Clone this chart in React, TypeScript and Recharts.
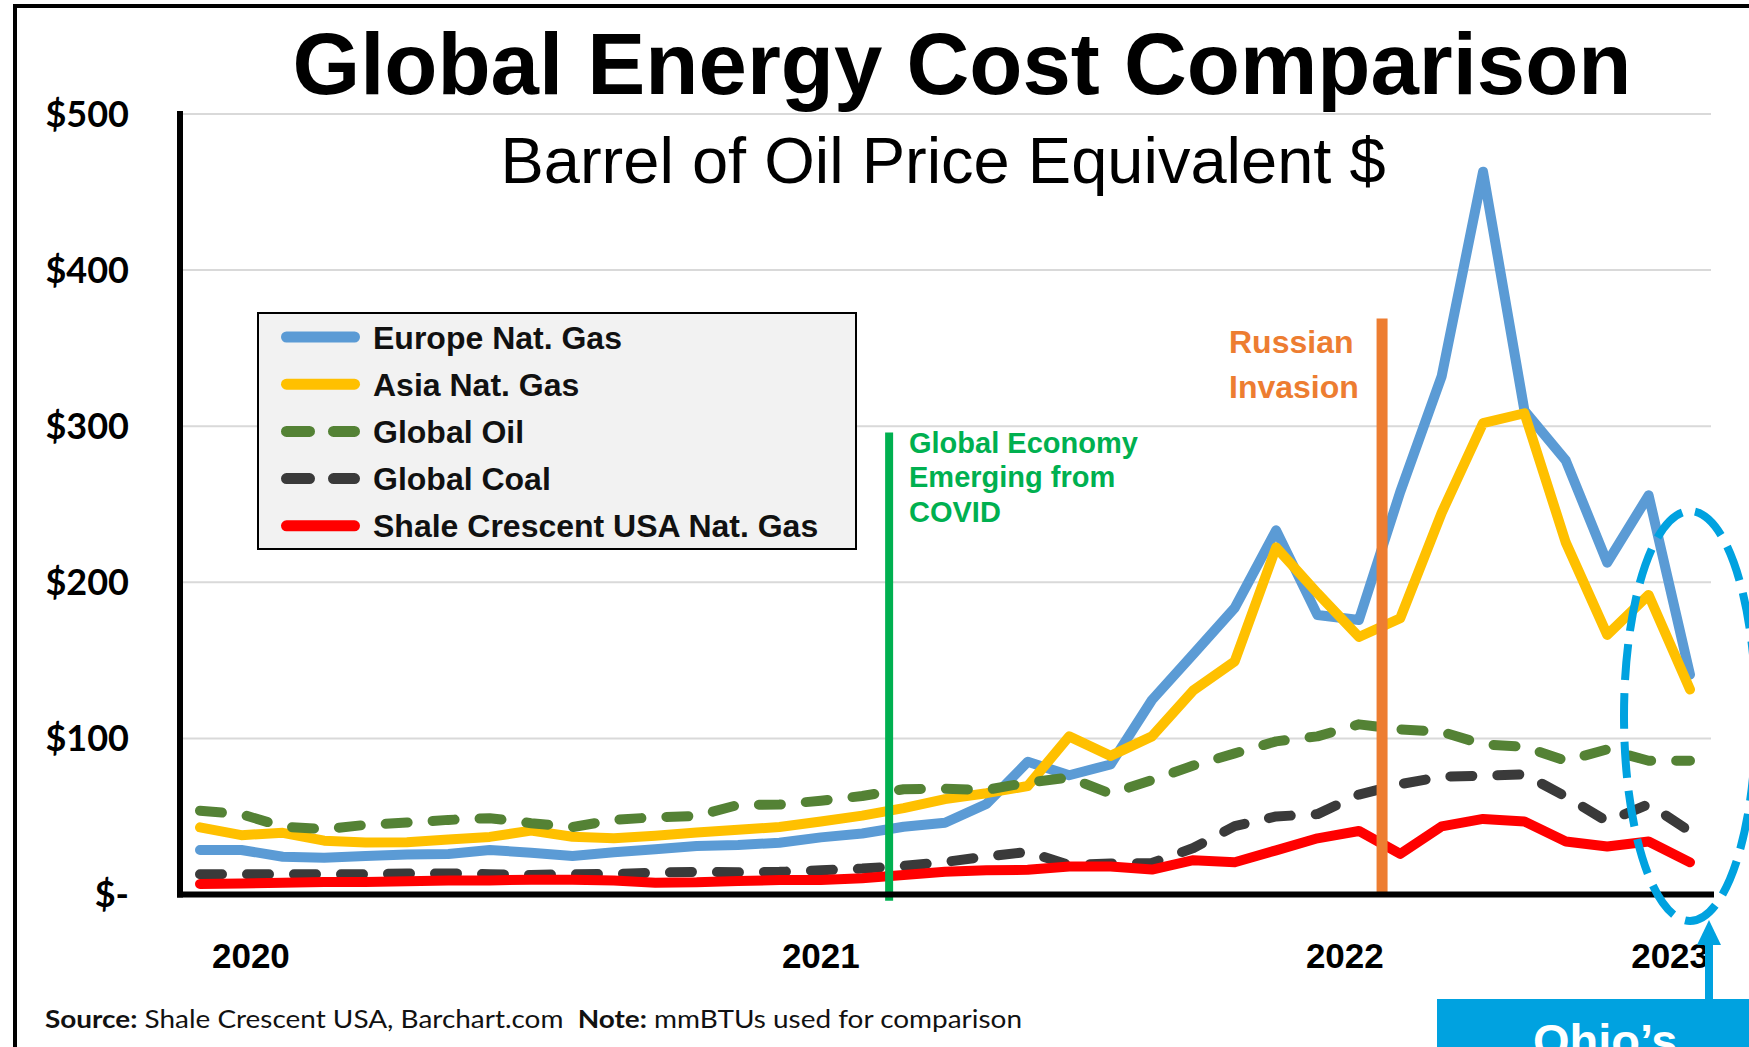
import React from 'react';
import { LineChart, Line, XAxis, YAxis, CartesianGrid, ReferenceLine, Legend } from 'recharts';

const W = 1749;
const H = 1047;

// 37 samples from early 2020 to early 2023, plotted by index
const EUROPE = [28.5, 28.5, 24.2, 23.6, 24.7, 25.7, 26, 28.5, 26.8, 24.7, 27, 29, 31.1, 31.7, 33.2, 36.6, 39.1, 43.4, 46, 58, 85, 76.4, 83.3, 124.6, 154, 183.6, 233.3, 179, 175.8, 258, 332, 463, 310, 278, 212.6, 255.7, 140.8];
const ASIA = [43, 38, 39.5, 34.5, 33.3, 33.5, 35.2, 36.9, 40.9, 37, 36, 37.6, 39.7, 41.5, 43.2, 46.8, 50.5, 55.3, 61.1, 64.9, 69.5, 101.3, 88.8, 101.3, 130.8, 149.4, 222.4, 193, 165, 177, 244.5, 302, 308.3, 225.4, 166.3, 191.9, 131.3];
const OIL = [53.7, 51.4, 43.5, 41.8, 44.6, 46.1, 47.8, 48.9, 45.7, 43.2, 47.8, 49.5, 50.3, 57.4, 57.6, 60.1, 63.1, 67.4, 67.7, 67, 71.7, 74.9, 64.6, 73.3, 82.6, 90.4, 98.1, 101.3, 109, 105.8, 104.2, 96.2, 94.6, 85.7, 93, 85.7, 85.7];
const COAL = [13, 13, 13, 13, 13, 13.5, 13.5, 13, 12.5, 13, 13.1, 14, 14.5, 14.2, 14.5, 15.5, 16.6, 18.3, 20.8, 24.3, 27.3, 18.9, 19.9, 20.2, 29.8, 43.8, 50, 51.5, 64, 70.7, 75.5, 76.1, 77, 62.7, 46.8, 57.9, 40.4];
const SHALE = [6.7, 7, 7.5, 8, 8, 8.5, 9, 9, 9.5, 9.5, 9, 7.6, 7.8, 8.6, 9.3, 9.3, 10.4, 12.5, 14.6, 15.5, 15.8, 18, 18, 16, 22, 20.7, 28.3, 36, 40.7, 26, 43.6, 48.4, 46.8, 34, 30.8, 34, 20.6];

const TICK_POS = [1.23, 15.0, 27.66, 35.52];
const TICK_LABELS = ['2020', '2021', '2022', '2023'];
const Y_TICKS = [0, 100, 200, 300, 400, 500];

// event markers (x in sample index, y in $)
const COVID_X = 16.65;
const COVID_TOP = 296;
const INVASION_X = 28.56;
const INVASION_TOP = 369;

const SERIES = [
  { key: 'europe', name: 'Europe Nat. Gas', color: '#5b9bd5', dashed: false },
  { key: 'asia', name: 'Asia Nat. Gas', color: '#ffc000', dashed: false },
  { key: 'oil', name: 'Global Oil', color: '#548235', dashed: true },
  { key: 'coal', name: 'Global Coal', color: '#3a3a3a', dashed: true },
  { key: 'shale', name: 'Shale Crescent USA Nat. Gas', color: '#ff0000', dashed: false },
];

const data = EUROPE.map((v, i) => ({
  i,
  europe: v,
  asia: ASIA[i],
  oil: OIL[i],
  coal: COAL[i],
  shale: SHALE[i],
}));

const ARIAL = '"Liberation Sans", Arial, sans-serif';
const CALIBRI = 'Lato, "Open Sans", sans-serif';
const CYAN = '#00a2e0';

const renderLegend = () => (
  <svg width={600} height={238} style={{ display: 'block' }}>
    <rect x={1} y={1} width={598} height={236} fill="#f2f2f2" stroke="#000" strokeWidth={2} />
    {SERIES.map((s, k) => {
      const cy = 25 + k * 47.2;
      return (
        <g key={s.key}>
          <line x1={29.5} y1={cy} x2={97.5} y2={cy} stroke={s.color} strokeWidth={11} strokeLinecap="round"
            strokeDasharray={s.dashed ? '23 24' : undefined} />
          <text x={116} y={cy + 11.5} fontFamily={ARIAL} fontWeight={700} fontSize={32} fill="#111">{s.name}</text>
        </g>
      );
    })}
  </svg>
);

export default function App() {
  return (
    <div style={{ position: 'absolute', left: 0, top: 0, width: W, height: H, overflow: 'hidden', background: '#fff' }}>
      <div style={{ position: 'absolute', left: 13, top: 4, width: 1900, height: 1200, border: '4px solid #000' }} />

      <div style={{ position: 'absolute', left: 0, top: 0 }}>
        <LineChart width={W} height={H} data={data} margin={{ top: 114, right: 38, bottom: 92.5, left: 0 }}>
          <CartesianGrid vertical={false} stroke="#d9d9d9" strokeWidth={2} />
          <XAxis
            dataKey="i"
            type="number"
            domain={[0, 36]}
            ticks={TICK_POS}
            interval={0}
            tickFormatter={(v) => TICK_LABELS[TICK_POS.indexOf(v)]}
            padding={{ left: 20, right: 21 }}
            height={60}
            axisLine={{ stroke: '#000', strokeWidth: 6, strokeLinecap: 'square' }}
            tickLine={false}
            tickSize={0}
            tickMargin={49}
            tick={{ fontFamily: ARIAL, fontWeight: 700, fontSize: 35, fill: '#000' }}
          />
          <YAxis
            type="number"
            domain={[0, 500]}
            ticks={Y_TICKS}
            interval={0}
            width={180}
            tickFormatter={(v) => (v === 0 ? '$-' : '$' + v)}
            axisLine={{ stroke: '#000', strokeWidth: 6, strokeLinecap: 'square' }}
            tickLine={false}
            tickSize={0}
            tickMargin={51}
            tick={{ fontFamily: CALIBRI, fontWeight: 700, fontSize: 36, fill: '#000' }}
          />
          {SERIES.map((s) => (
            <Line
              key={s.key}
              type="linear"
              dataKey={s.key}
              name={s.name}
              stroke={s.color}
              strokeWidth={10}
              strokeLinejoin="round"
              strokeLinecap="round"
              strokeDasharray={s.dashed ? '22 25' : undefined}
              dot={false}
              activeDot={false}
              isAnimationActive={false}
            />
          ))}
          <ReferenceLine
            segment={[{ x: COVID_X, y: -4 }, { x: COVID_X, y: COVID_TOP }]}
            stroke="#00b050"
            strokeWidth={8}
            ifOverflow="visible"
          />
          <ReferenceLine
            segment={[{ x: INVASION_X, y: 0 }, { x: INVASION_X, y: INVASION_TOP }]}
            stroke="#ed7d31"
            strokeWidth={11}
            ifOverflow="visible"
          />
          <Legend
            layout="vertical"
            align="center"
            verticalAlign="middle"
            content={renderLegend}
            wrapperStyle={{ left: 257, top: 312, width: 600, height: 238 }}
          />
        </LineChart>
      </div>

      <svg width={W} height={H} style={{ position: 'absolute', left: 0, top: 0, pointerEvents: 'none' }}>
        <text x={962} y={94} textAnchor="middle" fontFamily={ARIAL} fontWeight={700} fontSize={87} fill="#000">
          Global Energy Cost Comparison
        </text>
        <text x={943} y={183} textAnchor="middle" fontFamily={ARIAL} fontSize={65} fill="#000">
          Barrel of Oil Price Equivalent $
        </text>

        <g fontFamily={ARIAL} fontWeight={700} fontSize={29} fill="#00b050">
          <text x={909} y={453}>Global Economy</text>
          <text x={909} y={487}>Emerging from</text>
          <text x={909} y={522}>COVID</text>
        </g>
        <g fontFamily={ARIAL} fontWeight={700} fontSize={32} fill="#ed7d31">
          <text x={1229} y={353}>Russian</text>
          <text x={1229} y={398}>Invasion</text>
        </g>

        <text x={45} y={1028} fontFamily={CALIBRI} fontSize={25} fill="#111" textLength={977} lengthAdjust="spacingAndGlyphs">
          <tspan fontWeight={700}>Source:</tspan> Shale Crescent USA, Barchart.com{'\u00a0\u00a0'}<tspan fontWeight={700}>Note:</tspan> mmBTUs used for comparison
        </text>

        <ellipse cx={1690} cy={716} rx={66} ry={205} fill="none" stroke={CYAN} strokeWidth={8} strokeDasharray="36 13" />

        <rect x={1705} y={940} width={8} height={62} fill={CYAN} />
        <polygon points="1709,920 1697,945 1721,945" fill={CYAN} />
        <rect x={1437} y={999} width={330} height={60} fill={CYAN} />
        <text x={1533} y={1057} fontFamily={ARIAL} fontWeight={700} fontSize={47} fill="#fff">Ohio’s</text>
      </svg>
    </div>
  );
}
